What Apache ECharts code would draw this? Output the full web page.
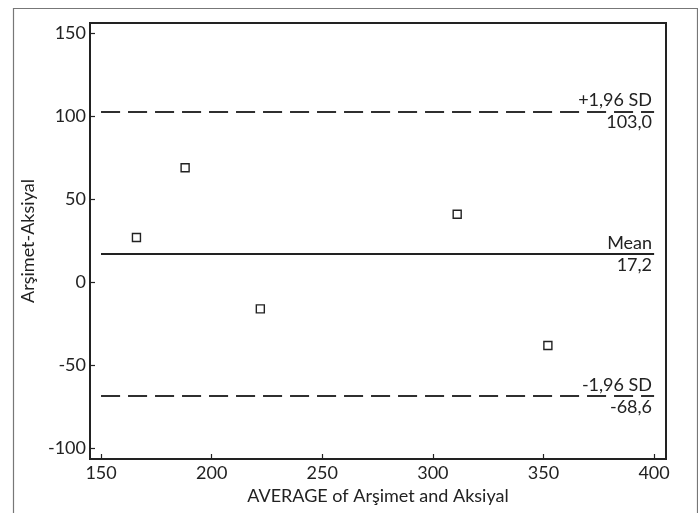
<!DOCTYPE html>
<html>
<head>
<meta charset="utf-8">
<script src="https://cdn.jsdelivr.net/npm/echarts@6/dist/echarts.min.js"></script>
<style>
  html, body { margin: 0; padding: 0; background: #fff; }
  #chart { width: 698px; height: 513px; }
</style>
</head>
<body>
<div id="chart"></div>
<script>
// averages (x) and differences (y)
var averages = [166, 188, 222, 311, 352];
var differences = [27, 69, -16, 41, -38];
// limits of agreement
var meanDiff = 17.2;
var upperLoA = 103.0;
var lowerLoA = -68.6;
var lineFrom = 150, lineTo = 400;
// tick labels
var xTicks = [150, 200, 250, 300, 350, 400];
var yTicks = [-100, -50, 0, 50, 100, 150];

var FONT = 'Lato';
var FS = 18;
var INK = '#222';

var points = [];
for (var i = 0; i < averages.length; i++) points.push([averages[i], differences[i]]);

// one line drawn twice: text above and text below its right end
function limitItems(value, topText, bottomText, dashed) {
    var style = { color: INK, width: dashed ? 1.5 : 2, type: dashed ? [19, 8] : 'solid' };
    return [
        [
            { coord: [lineFrom, value], lineStyle: style,
              label: { show: true, position: 'insideEndTop', formatter: topText,
                       color: INK, fontFamily: FONT, fontSize: FS, distance: 2 } },
            { coord: [lineTo, value] }
        ],
        [
            { coord: [lineFrom, value], lineStyle: style,
              label: { show: true, position: 'insideEndBottom', formatter: bottomText,
                       color: INK, fontFamily: FONT, fontSize: FS, distance: 2 } },
            { coord: [lineTo, value] }
        ]
    ];
}

var markData = []
    .concat(limitItems(upperLoA, '+1,96 SD', '103,0', true))
    .concat(limitItems(meanDiff, 'Mean', '17,2', false))
    .concat(limitItems(lowerLoA, '-1,96 SD', '-68,6', true));

var chart = echarts.init(document.getElementById('chart'));
chart.setOption({
    animation: false,
    backgroundColor: '#fff',
    textStyle: { fontFamily: FONT },
    graphic: [{
        type: 'rect',
        left: 11, top: 6,
        shape: { width: 684, height: 530 },
        style: { fill: 'none', stroke: '#777', lineWidth: 1.2 },
        silent: true
    }],
    grid: {
        left: 90, right: 32, top: 23, bottom: 54,
        show: true, borderColor: INK, borderWidth: 2, backgroundColor: 'transparent'
    },
    xAxis: {
        type: 'value',
        min: 145, max: 405.4,
        name: 'AVERAGE of Arşimet and Aksiyal',
        nameLocation: 'middle', nameGap: 28,
        nameTextStyle: { color: INK, fontFamily: FONT, fontSize: FS },
        axisLine: { show: true, onZero: false, lineStyle: { color: INK, width: 2 } },
        axisTick: { show: true, inside: true, length: 5, customValues: xTicks,
                    lineStyle: { color: INK, width: 1.2 } },
        axisLabel: { customValues: xTicks, color: INK, fontFamily: FONT, fontSize: FS, margin: 5 },
        splitLine: { show: false }
    },
    yAxis: {
        type: 'value',
        min: -106.4, max: 156.2,
        name: 'Arşimet-Aksiyal',
        nameLocation: 'middle', nameGap: 50,
        nameTextStyle: { color: INK, fontFamily: FONT, fontSize: FS },
        axisLine: { show: true, onZero: false, lineStyle: { color: INK, width: 2 } },
        axisTick: { show: true, inside: true, length: 5, customValues: yTicks,
                    lineStyle: { color: INK, width: 1.2 } },
        axisLabel: { customValues: yTicks, color: INK, fontFamily: FONT, fontSize: FS, margin: 4 },
        splitLine: { show: false }
    },
    series: [{
        type: 'scatter',
        data: points,
        symbol: 'rect',
        symbolSize: 8,
        itemStyle: { color: '#fff', borderColor: INK, borderWidth: 1.4, opacity: 1 },
        z: 3,
        markLine: {
            silent: true,
            symbol: ['none', 'none'],
            precision: 1,
            data: markData
        }
    }]
});
</script>
</body>
</html>
